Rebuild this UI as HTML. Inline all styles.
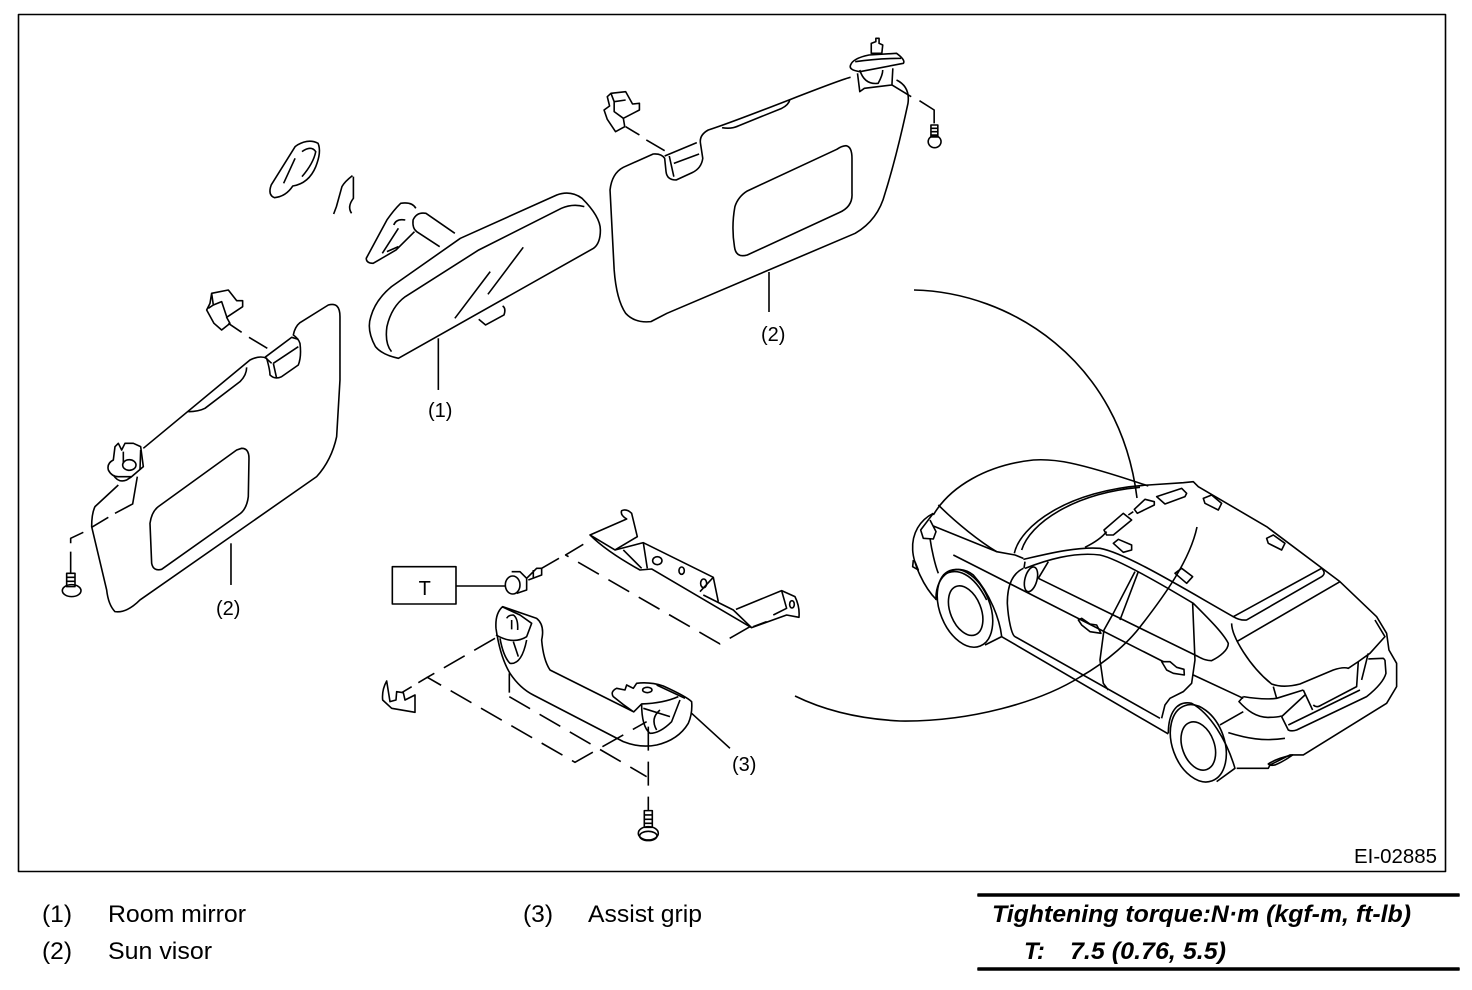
<!DOCTYPE html>
<html><head><meta charset="utf-8"><style>
html,body{margin:0;padding:0;background:#fff}
svg{display:block}
path,ellipse,rect,line{fill:none;stroke:#000;stroke-width:1.6;vector-effect:non-scaling-stroke;stroke-linejoin:round}
.d{stroke-dasharray:24 11}
text{font-family:"Liberation Sans",sans-serif;fill:#000}
</style></head><body>
<svg width="1472" height="990" viewBox="0 0 1472 990" xmlns="http://www.w3.org/2000/svg">
<rect x="18.5" y="14.5" width="1427" height="857"/>

<!-- callout arcs -->
<path d="M914 290C1010 292 1120 360 1137 498"/>
<path d="M795 696Q840 718 900 721C970 722 1040 702 1080 677C1110 660 1130 640 1140 627C1165 595 1190 560 1197 527"/>

<!-- leader for right visor -->
<path d="M769 272V312"/>

<!-- mirror + right visor (zoom 1 coordinates) -->
<g transform="translate(240 30) scale(.4591 .3333)">
<path d="M1330 142C1310 145 1100 265 1020 300Q1000 315 1003 340L1008 385Q1005 415 985 428L950 450Q930 450 928 425L925 385Q918 370 900 372L835 412Q810 430 806 480L815 720Q820 810 840 850Q860 880 895 875L930 850L1340 610Q1390 570 1405 490Q1430 380 1455 220Q1460 170 1430 150"/>
<path d="M1320 347Q1333 350 1333 385L1333 490Q1335 530 1305 548L1105 675Q1080 685 1077 650Q1070 590 1078 530Q1085 500 1105 483L1300 358Q1310 348 1320 347Z"/>
<path d="M1050 293Q1070 298 1085 288L1180 235Q1195 225 1198 208"/>
<path d="M925 378L995 338M945 400L1000 372M935 378L945 440"/>
<path d="M1345 130L1350 185L1360 175L1420 165L1422 115M1350 120Q1360 165 1390 160Q1400 135 1400 120"/>
<path d="M1330 105Q1335 85 1370 75L1430 70Q1450 90 1445 100L1350 125Q1325 120 1330 105ZM1340 95Q1390 85 1440 85"/>
<path d="M1375 60L1375 40L1385 35L1385 25L1392 25L1392 40L1400 45L1398 70L1375 70Z"/>
<path d="M1420 165L1462 200"/>
<path d="M1480 212L1512 240L1512 280"/>
<rect x="1505" y="285" width="15" height="36"/>
<ellipse cx="1513" cy="335" rx="14" ry="18"/>
<path d="M1505 295H1520M1505 305H1520M1505 315H1520"/>
<path d="M800 200L808 190L840 185L855 222L870 220L870 240L835 265L838 290L818 305L800 268L793 240L805 228Z"/>
<path d="M808 190L815 215L840 210M815 215L815 245L835 265"/>
<path d="M840 290L870 315M885 330L925 362"/>
<!-- mirror -->
<path d="M690 495Q720 480 745 505Q785 560 785 600Q785 640 770 655L345 985Q310 975 295 950Q275 900 285 860Q295 810 330 770L480 625Z"/>
<path d="M750 530Q725 520 700 535L520 660L360 800Q330 830 320 890Q315 940 330 965"/>
<path d="M545 725L468 865M617 652L540 793"/>
<path d="M520 868L535 885L575 855Q580 835 572 828"/>
<path d="M432 925V1080"/>
<path d="M468 610L405 550Q385 545 377 570Q375 595 385 605L435 650"/>
<path d="M383 535Q375 515 350 520Q335 540 320 570L275 685Q275 700 290 700L340 660L380 605"/>
<path d="M335 585Q340 565 360 570M345 595L310 670M320 665L345 650"/>
<path d="M125 345Q150 325 170 340Q178 365 165 410Q150 460 115 468Q100 500 75 503Q60 495 68 465L120 350Z"/>
<path d="M135 365Q155 345 165 365Q160 400 135 440M120 385L95 460"/>
<path d="M245 437Q228 455 222 470L210 530L204 552M247 440L247 505Q233 530 243 550"/>
</g>

<text x="428" y="417" font-size="20">(1)</text>
<text x="761" y="341" font-size="20">(2)</text>
<text x="216" y="615" font-size="20">(2)</text>
<text x="732" y="771" font-size="20">(3)</text>

<!-- left visor (zoom 4 coordinates) -->
<g transform="translate(50 280) scale(.3333)">
<path d="M280 505L600 240Q630 225 650 235Q660 270 660 285Q675 300 695 290L745 255Q755 230 750 190Q745 175 730 165Q735 140 750 128L835 75Q870 65 870 110L870 300L860 470Q845 540 800 590L270 960Q230 1000 195 995Q175 975 170 930L125 740Q125 700 135 680L205 615"/>
<path d="M575 505Q597 505 597 535L595 650Q590 690 565 705L335 868Q310 875 305 850L300 730Q305 695 325 680L560 510Z"/>
<path d="M415 395Q445 395 465 385L570 305Q590 285 590 262"/>
<path d="M645 232L725 172L745 178M670 250L745 200M670 250L680 295M645 232L665 250"/>
<path d="M175 570Q170 550 190 540L195 500L205 490L215 510L225 490L250 490L272 500L280 560L245 590L205 590Q185 590 175 570Z"/>
<path d="M190 585Q205 610 230 600L245 590M262 590L248 672L195 700"/>
<ellipse cx="238" cy="555" rx="20" ry="16"/>
<path d="M220 515V550M272 510L270 570"/>
<path d="M175 712L125 742M100 757L62 775V790"/>
<path d="M62 815V880"/>
<rect x="50" y="880" width="25" height="40"/>
<ellipse cx="65" cy="932" rx="28" ry="18"/>
<path d="M50 892H75M50 904H75"/>
<path d="M485 40L535 30L560 62L578 62L578 80L530 112L540 130L515 150L492 130L470 90L480 70Z"/>
<path d="M485 40L490 75L515 65L530 110M490 75L475 85"/>
<path d="M535 130L575 157M597 172L652 205"/>
<path d="M543 790V915"/>
</g>

<!-- grip parts (zoom 3 coordinates) -->
<g transform="translate(370 500) scale(.3333)">
<rect x="67" y="200" width="191" height="112"/>
<path d="M258 258H408"/>
<ellipse cx="428" cy="255" rx="22" ry="27"/>
<path d="M425 215L450 215L470 235L470 270L440 280M470 235L500 205L515 205L515 225L475 240M490 210V235"/>
<path d="M515 205L567 175" class="d"/>
<path class="d" d="M640 133L587 165L1050 432L1140 380"/>
<path d="M660 105L770 57Q750 45 755 32Q770 25 785 40L802 110L735 150L660 105Q710 155 810 210L845 207L1145 383L1250 345L1287 352Q1290 320 1275 290L1235 272L1098 328"/>
<path d="M735 150L820 128L1030 232L1045 305M1030 232L990 275M820 128L832 205M760 150L815 205M1235 272L1250 325L1210 345M1150 380L1190 365"/>
<path d="M1000 285L1090 330L1145 383"/>
<ellipse cx="862" cy="182" rx="14" ry="12"/>
<ellipse cx="935" cy="212" rx="8" ry="11"/>
<ellipse cx="1001" cy="250" rx="9" ry="13"/>
<ellipse cx="1266" cy="313" rx="7" ry="11"/>
<!-- grip -->
<path d="M398 320Q375 340 378 385Q390 470 420 520Q450 565 490 585L760 725Q810 745 860 735Q925 720 955 670Q968 640 965 605Q950 590 880 558Q840 545 800 550L790 565L770 555L765 570L740 565Q720 575 730 590Q760 615 790 635L540 510Q520 480 515 420Q525 375 500 355Z"/>
<path d="M378 405Q430 435 470 410L485 370L450 345L400 322"/>
<path d="M410 355Q415 345 430 345Q445 355 443 390M425 360V388"/>
<path d="M390 415Q400 470 420 490Q455 495 470 420M430 425L445 470"/>
<path d="M790 637L815 612Q880 610 925 590M815 612Q815 680 840 700Q870 700 905 665L930 600"/>
<path d="M870 630Q840 655 860 690M820 625L900 650"/>
<ellipse cx="832" cy="570" rx="14" ry="8"/>
<path d="M860 555L945 595"/>
<path d="M965 640L1080 745"/>
<path class="d" d="M375 415L172 532L615 787L830 665"/>
<path d="M172 532L145 548M125 560L95 578"/>
<path d="M418 520V578"/>
<path class="d" d="M418 590L830 830"/>
<path class="d" d="M835 680V930"/>
<rect x="823" y="932" width="24" height="50"/>
<path d="M823 945H847M823 958H847M823 970H847"/>
<ellipse cx="835" cy="1000" rx="30" ry="20"/>
<ellipse cx="835" cy="1008" rx="26" ry="14"/>
<path d="M50 543Q35 570 38 600L65 625L135 637V585L105 600L100 578L80 575L78 600L60 605Z"/>
<text x="146" y="285" style="font-size:60px">T</text>
</g>

<!-- car (zoom 2 coordinates) -->
<g transform="translate(900 460) scale(.3333)">
<path d="M100 165C150 80 260 15 400 0C460 -4 520 2 745 78"/>
<path d="M343 280C360 200 500 90 745 75L850 68L880 65L895 80L1100 200L1320 365L1430 470L1460 520L1467 570L1490 610L1490 680L1460 730L1210 885L1170 885L1110 915L1105 925L1010 925"/>
<path d="M365 270C390 190 520 100 720 82"/>
<path d="M115 135C170 190 240 245 290 275L345 285L370 295"/>
<path d="M100 198L290 275"/>
<path d="M100 160L62 210L70 235L100 237L108 215L90 180"/>
<path d="M100 160C60 180 35 220 38 270C40 310 70 380 110 420"/>
<path d="M90 235C95 270 105 315 115 340"/>
<path d="M40 300L38 320L55 330L45 305"/>
<path d="M370 298C450 280 530 260 600 265C680 280 850 385 1000 470"/>
<path d="M375 325C440 300 520 275 600 285C650 295 780 370 880 430C930 480 970 520 985 550C985 570 960 590 935 602C920 602 910 598 895 590L415 355"/>
<path d="M160 285L790 605"/>
<path d="M535 480L545 475L570 492L590 495L603 520L570 515L545 495Z"/>
<path d="M785 605L810 605L830 622L852 628L853 645L820 640L800 630Z"/>
<path d="M715 335L660 480M705 335L640 460L612 510L600 600L610 670L625 690"/>
<path d="M878 430L885 600L875 670L850 695L810 715L795 735L785 775"/>
<path d="M370 325C340 340 322 370 322 430C325 480 335 525 345 530L780 775"/>
<path d="M305 530L805 822"/>
<path d="M108 420C105 340 170 305 220 345C270 400 300 480 305 530L255 555"/>
<ellipse cx="197" cy="452" rx="46" ry="78" transform="rotate(-22 197 452)"/>
<ellipse cx="195" cy="445" rx="75" ry="122" transform="rotate(-22 195 445)"/>
<path d="M130 345C170 320 220 340 260 420"/>
<path d="M805 820C805 760 830 720 875 730C930 760 980 840 1005 925L950 965"/>
<ellipse cx="895" cy="858" rx="48" ry="75" transform="rotate(-20 895 858)"/>
<ellipse cx="895" cy="850" rx="78" ry="120" transform="rotate(-20 895 850)"/>
<ellipse cx="393" cy="358" rx="18" ry="38" transform="rotate(15 393 358)"/>
<path d="M445 305L415 355M375 305L372 325"/>
<path d="M770 110L845 85L860 100L855 110L795 132Z"/>
<path d="M910 115L935 105L965 130L955 150L915 130Z"/>
<path d="M1100 235L1120 225L1155 250L1145 270L1105 250Z"/>
<path d="M825 340L845 325L878 350L860 370Z"/>
<path d="M640 250L655 238L695 255L695 270L670 277Z"/>
<path d="M612 210L670 160L695 180L640 225L620 225Z"/>
<path d="M703 148L735 118L763 125L763 135L712 160Z"/>
<path d="M555 262Q600 240 620 215M685 165L700 155"/>
<path d="M1000 470L1265 325Q1280 340 1265 350L1040 480Q1020 482 1000 470Z"/>
<path d="M995 490C995 530 1050 620 1115 672Q1150 685 1200 672L1300 630Q1330 620 1345 625L1375 605L1410 580L1455 530L1425 480"/>
<path d="M1010 545L1320 365"/>
<path d="M1120 680L1130 715"/>
<path d="M880 645L1030 715"/>
<path d="M1030 710L1017 725C1040 750 1070 775 1110 772Q1130 772 1145 768"/>
<path d="M1030 710Q1090 720 1130 715L1210 690"/>
<path d="M1210 690L1238 750M1145 770L1215 705"/>
<path d="M1240 735Q1250 745 1265 735L1370 680L1375 605"/>
<path d="M1405 580L1385 660M1405 597L1450 595L1455 600"/>
<path d="M1145 770L1165 810Q1175 815 1190 810L1400 710Q1450 670 1458 640L1455 600"/>
<path d="M1165 795L1380 690"/>
<path d="M985 818C1040 835 1090 845 1155 835"/>
<path d="M1105 912Q1130 895 1178 885Q1150 905 1125 915Q1110 918 1105 912Z"/>
<path d="M960 795L1030 755"/>
</g>

<text x="1354" y="863" font-size="20" textLength="83" lengthAdjust="spacingAndGlyphs">EI-02885</text>

<text x="42" y="922" font-size="24" textLength="30" lengthAdjust="spacingAndGlyphs">(1)</text>
<text x="108" y="922" font-size="24" textLength="138" lengthAdjust="spacingAndGlyphs">Room mirror</text>
<text x="42" y="959" font-size="24" textLength="30" lengthAdjust="spacingAndGlyphs">(2)</text>
<text x="108" y="959" font-size="24" textLength="104" lengthAdjust="spacingAndGlyphs">Sun visor</text>
<text x="523" y="922" font-size="24" textLength="30" lengthAdjust="spacingAndGlyphs">(3)</text>
<text x="588" y="922" font-size="24" textLength="114" lengthAdjust="spacingAndGlyphs">Assist grip</text>

<rect x="978" y="894" width="481" height="2" style="stroke-width:1.5;fill:#000"/>
<rect x="978" y="968" width="481" height="2" style="stroke-width:1.5;fill:#000"/>
<text x="992" y="922" font-size="24" font-weight="bold" font-style="italic" textLength="419" lengthAdjust="spacingAndGlyphs">Tightening torque:N·m (kgf-m, ft-lb)</text>
<text x="1024" y="959" font-size="24" font-weight="bold" font-style="italic">T:</text>
<text x="1070" y="959" font-size="24" font-weight="bold" font-style="italic" textLength="156" lengthAdjust="spacingAndGlyphs">7.5 (0.76, 5.5)</text>
</svg>
</body></html>
